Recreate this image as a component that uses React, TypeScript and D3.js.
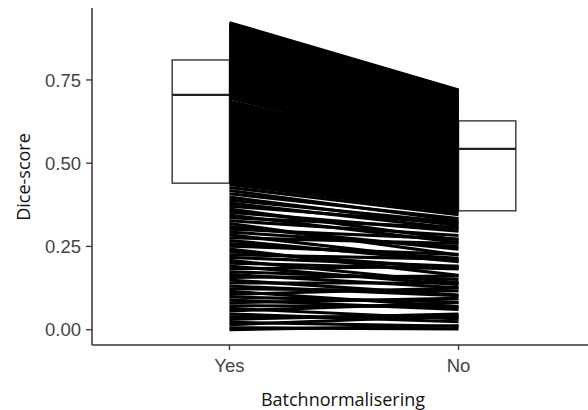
import React, { useEffect, useRef } from 'react';
import * as d3 from 'd3';

// Groups on the x axis
const groups = ['Yes', 'No'];

// Box statistics: [Q1, median, Q3]
const yesBox = [0.44, 0.705, 0.81];
const noBox = [0.357, 0.543, 0.627];

// Paired Dice-scores, one entry per case (Yes[i] is joined to No[i])
const yesScores = [
  0.000, 0.006, 0.015, 0.022, 0.031, 0.039, 0.047, 0.056, 0.064, 0.072,
  0.081, 0.089, 0.098, 0.106, 0.115, 0.123, 0.131, 0.140, 0.149, 0.157,
  0.166, 0.174, 0.183, 0.191, 0.200, 0.208, 0.217, 0.225, 0.234, 0.242,
  0.251, 0.259, 0.268, 0.276, 0.285, 0.293, 0.302, 0.310, 0.319, 0.327,
  0.336, 0.344, 0.353, 0.362, 0.371, 0.380, 0.389, 0.398, 0.408, 0.418,
  0.427, 0.436,
  0.441, 0.448, 0.455, 0.461, 0.468, 0.474, 0.481, 0.487, 0.494, 0.500,
  0.507, 0.514, 0.520, 0.527, 0.533, 0.540, 0.547, 0.553, 0.560, 0.566,
  0.573, 0.580, 0.586, 0.593, 0.599, 0.606, 0.613, 0.619, 0.626, 0.632,
  0.639, 0.646, 0.652, 0.659, 0.665, 0.672, 0.679, 0.686, 0.695, 0.703,
  0.706, 0.709, 0.711, 0.714, 0.717, 0.719, 0.722, 0.724, 0.727, 0.730,
  0.732, 0.735, 0.738, 0.740, 0.743, 0.746, 0.748, 0.751, 0.754, 0.756,
  0.759, 0.761, 0.764, 0.767, 0.769, 0.772, 0.775, 0.777, 0.780, 0.783,
  0.785, 0.788, 0.791, 0.793, 0.796, 0.798, 0.801, 0.804, 0.806, 0.809,
  0.813, 0.816, 0.819, 0.821, 0.824, 0.827, 0.830, 0.833, 0.835, 0.838,
  0.841, 0.844, 0.847, 0.849, 0.852, 0.855, 0.858, 0.861, 0.863, 0.866,
  0.869, 0.872, 0.875, 0.877, 0.880, 0.883, 0.886, 0.889, 0.891, 0.894,
  0.897, 0.900, 0.903, 0.905, 0.908, 0.911, 0.914, 0.917, 0.919, 0.922,
];

const noScores = [
  0.012, 0.002, 0.042, 0.010, 0.047, 0.037, 0.024, 0.081, 0.032, 0.069,
  0.094, 0.061, 0.083, 0.125, 0.069, 0.116, 0.102, 0.140, 0.104, 0.161,
  0.126, 0.151, 0.190, 0.135, 0.182, 0.141, 0.190, 0.212, 0.184, 0.163,
  0.226, 0.214, 0.204, 0.259, 0.206, 0.249, 0.272, 0.242, 0.224, 0.283,
  0.306, 0.262, 0.296, 0.270, 0.318, 0.304, 0.322, 0.312, 0.334, 0.327,
  0.345, 0.352,
  0.358, 0.363, 0.367, 0.372, 0.376, 0.381, 0.386, 0.391, 0.396, 0.400,
  0.405, 0.410, 0.414, 0.419, 0.424, 0.428, 0.433, 0.438, 0.442, 0.447,
  0.452, 0.456, 0.461, 0.466, 0.471, 0.475, 0.480, 0.485, 0.489, 0.494,
  0.499, 0.503, 0.508, 0.513, 0.517, 0.522, 0.527, 0.531, 0.536, 0.541,
  0.545, 0.547, 0.549, 0.551, 0.553, 0.555, 0.557, 0.560, 0.562, 0.564,
  0.566, 0.568, 0.570, 0.572, 0.574, 0.576, 0.578, 0.580, 0.582, 0.585,
  0.587, 0.589, 0.591, 0.593, 0.595, 0.597, 0.599, 0.601, 0.603, 0.605,
  0.607, 0.609, 0.612, 0.614, 0.616, 0.618, 0.620, 0.622, 0.624, 0.626,
  0.631, 0.633, 0.636, 0.638, 0.640, 0.642, 0.645, 0.647, 0.649, 0.652,
  0.654, 0.656, 0.658, 0.661, 0.663, 0.665, 0.667, 0.670, 0.672, 0.674,
  0.677, 0.679, 0.681, 0.683, 0.686, 0.688, 0.690, 0.693, 0.695, 0.697,
  0.699, 0.702, 0.704, 0.706, 0.708, 0.711, 0.713, 0.715, 0.718, 0.720,
];

const yTicks = [0, 0.25, 0.5, 0.75];

const App = () => {
  const svgRef = useRef(null);

  useEffect(() => {
    const svg = d3.select(svgRef.current);
    svg.selectAll('*').remove();

    const left = 92;
    const top = 8;
    const bottom = 345;
    const right = 596;

    const x = d3.scalePoint().domain(groups).range([left, right]).padding(0.6);
    const step = x.step();
    const y = d3.scaleLinear().domain([-0.046, 0.966]).range([bottom, top]);

    // Boxes (nudged: Yes to the left, No to the right)
    const boxes = [yesBox, noBox];
    groups.forEach((g, gi) => {
      const [q1, med, q3] = boxes[gi];
      const bw = step * 0.25;
      const x0 = gi === 0 ? x(g) - bw : x(g);
      svg.append('rect')
        .attr('x', x0).attr('y', y(q3))
        .attr('width', bw).attr('height', y(q1) - y(q3))
        .attr('fill', '#fff').attr('stroke', '#333').attr('stroke-width', 1.4);
      svg.append('line')
        .attr('x1', x0).attr('x2', x0 + bw)
        .attr('y1', y(med)).attr('y2', y(med))
        .attr('stroke', '#222').attr('stroke-width', 2.2);
    });

    // Paired lines
    const line = d3.line().x(d => d[0]).y(d => d[1]);
    const pairs = yesScores.map((v, i) => [v, noScores[i]]);
    svg.append('g')
      .selectAll('path')
      .data(pairs)
      .enter()
      .append('path')
      .attr('d', d => line([[x('Yes'), y(d[0])], [x('No'), y(d[1])]]))
      .attr('fill', 'none')
      .attr('stroke', '#000')
      .attr('stroke-width', 3.1);

    // Axes
    const axisColor = '#333';
    svg.append('line')
      .attr('x1', left).attr('x2', left).attr('y1', top).attr('y2', bottom)
      .attr('stroke', axisColor).attr('stroke-width', 1.5);
    svg.append('line')
      .attr('x1', left).attr('x2', 588).attr('y1', bottom).attr('y2', bottom)
      .attr('stroke', axisColor).attr('stroke-width', 1.5);

    yTicks.forEach(t => {
      svg.append('line')
        .attr('x1', left - 6).attr('x2', left).attr('y1', y(t)).attr('y2', y(t))
        .attr('stroke', axisColor).attr('stroke-width', 1.3);
      svg.append('text')
        .attr('x', left - 11).attr('y', y(t)).attr('dy', '0.36em')
        .attr('text-anchor', 'end')
        .style('font-family', '"Liberation Sans", Arial, sans-serif')
        .style('font-size', '18.5px')
        .style('fill', '#444')
        .text(d3.format('.2f')(t));
    });

    groups.forEach(g => {
      svg.append('line')
        .attr('x1', x(g)).attr('x2', x(g)).attr('y1', bottom).attr('y2', bottom + 5)
        .attr('stroke', axisColor).attr('stroke-width', 1.3);
      svg.append('text')
        .attr('x', x(g)).attr('y', bottom + 27)
        .attr('text-anchor', 'middle')
        .style('font-family', '"Liberation Sans", Arial, sans-serif')
        .style('font-size', '18.5px')
        .style('fill', '#444')
        .text(g);
    });

    // Axis titles
    svg.append('text')
      .attr('x', 343).attr('y', 406)
      .attr('text-anchor', 'middle')
      .style('font-family', '"Open Sans", sans-serif')
      .style('font-size', '18px')
      .style('fill', '#111')
      .text('Batchnormalisering');
    svg.append('text')
      .attr('transform', 'translate(30,177) rotate(-90)')
      .attr('text-anchor', 'middle')
      .style('font-family', '"Open Sans", sans-serif')
      .style('font-size', '18px')
      .style('fill', '#111')
      .text('Dice-score');
  }, []);

  return (
    <svg
      ref={svgRef}
      width={588}
      height={410}
      style={{ position: 'absolute', left: 0, top: 0, background: '#fff' }}
    />
  );
};

export default App;
